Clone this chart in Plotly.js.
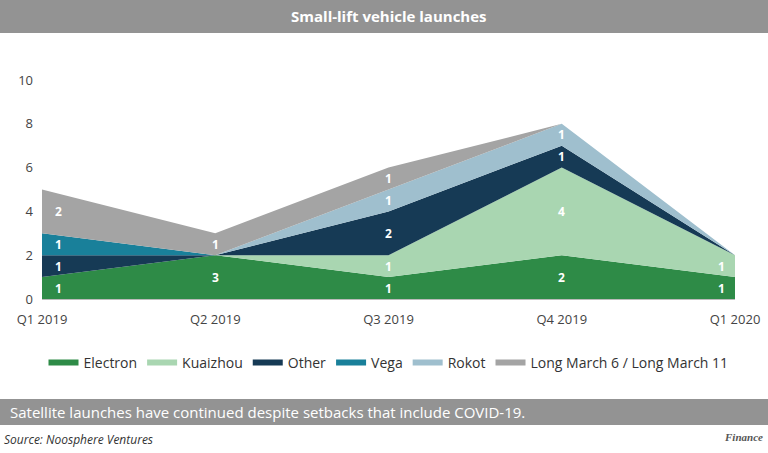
<!DOCTYPE html><html><head><script src="https://cdn.plot.ly/plotly-3.0.1.min.js"></script>
<style>body{margin:0}</style></head><body><div id="c" style="width:768px;height:453px"></div><script>
const quarters=["Q1 2019","Q2 2019","Q3 2019","Q4 2019","Q1 2020"];
const electron=[1,2,1,2,1];
const kuaizhou=[0,0,1,4,1];
const other=[1,0,2,1,0];
const vega=[1,0,0,0,0];
const rokot=[0,0,1,1,0];
const longMarch=[2,1,1,0,0];
const electronLabels=["1","3","1","2","1"];
const series=[
 {name:"Electron",v:electron,c:"#2e8b47",lab:electronLabels},
 {name:"Kuaizhou",v:kuaizhou,c:"#a9d6b1"},
 {name:"Other",v:other,c:"#163a55"},
 {name:"Vega",v:vega,c:"#19809a"},
 {name:"Rokot",v:rokot,c:"#9fbfce"},
 {name:"Long March 6 / Long March 11",v:longMarch,c:"#a4a4a4"}];
const traces=[],ann=[];const cum=[0,0,0,0,0];
series.forEach(s=>{
 traces.push({x:quarters,y:s.v,name:s.name,type:"scatter",mode:"none",stackgroup:"a",fillcolor:s.c,line:{width:0},hoverinfo:"skip"});
 s.v.forEach((v,i)=>{ if(v>0){ann.push({x:quarters[i],y:cum[i]+v/2,text:"<b>"+(s.lab?s.lab[i]:v)+"</b>",showarrow:false,font:{color:"#fff",size:12},xshift:i==0?16:(i==4?-14:0)});} cum[i]+=v;});
});
const L=42,R=33,T=80,B=154,W=768-L-R,H=453-T-B;
const py=p=>(299-p)/H;
const mid={yanchor:"middle",showarrow:false,xref:"paper",yref:"paper"};
ann.push({...mid,x:0.5,y:py(16),text:"<b>Small-lift vehicle launches</b>",font:{color:"#fff",size:15}});
ann.push({...mid,x:-L/W+0.012,xanchor:"left",y:py(412),text:"Satellite launches have continued despite setbacks that include COVID-19.",font:{color:"#fff",size:15}});
ann.push({...mid,x:-L/W+0.003,xanchor:"left",y:py(439),text:"<i>Source: Noosphere Ventures</i>",font:{color:"#333",size:12}});
ann.push({...mid,x:1+R/W-0.005,xanchor:"right",y:py(437),text:"<i><b>Finance</b></i>",font:{color:"#555",size:11,family:"Liberation Serif"}});
const shapes=[
 {type:"rect",xref:"paper",yref:"paper",x0:-L/W,x1:1+R/W,y0:py(33),y1:py(0),fillcolor:"#939393",line:{width:0},layer:"below"},
 {type:"rect",xref:"paper",yref:"paper",x0:-L/W,x1:1+R/W,y0:py(425),y1:py(399),fillcolor:"#939393",line:{width:0},layer:"below"}];
Plotly.newPlot("c",traces,{width:768,height:453,margin:{l:L,r:R,t:T,b:B},
 font:{family:"Open Sans",color:"#444",size:13},paper_bgcolor:"#fff",plot_bgcolor:"#fff",
 xaxis:{range:[0,4],showgrid:false,showline:true,linecolor:"#bbb",ticks:"",tickfont:{size:13},ticklabelstandoff:8},
 yaxis:{range:[0,10],dtick:2,showgrid:false,zeroline:false,tickfont:{size:13},ticklabelstandoff:8},
 legend:{orientation:"h",x:0.5,xanchor:"center",y:py(363),yanchor:"middle",font:{size:14,color:"#333"},traceorder:"normal",itemwidth:30},
 annotations:ann,shapes:shapes,showlegend:true},{displayModeBar:false});
</script></body></html>
